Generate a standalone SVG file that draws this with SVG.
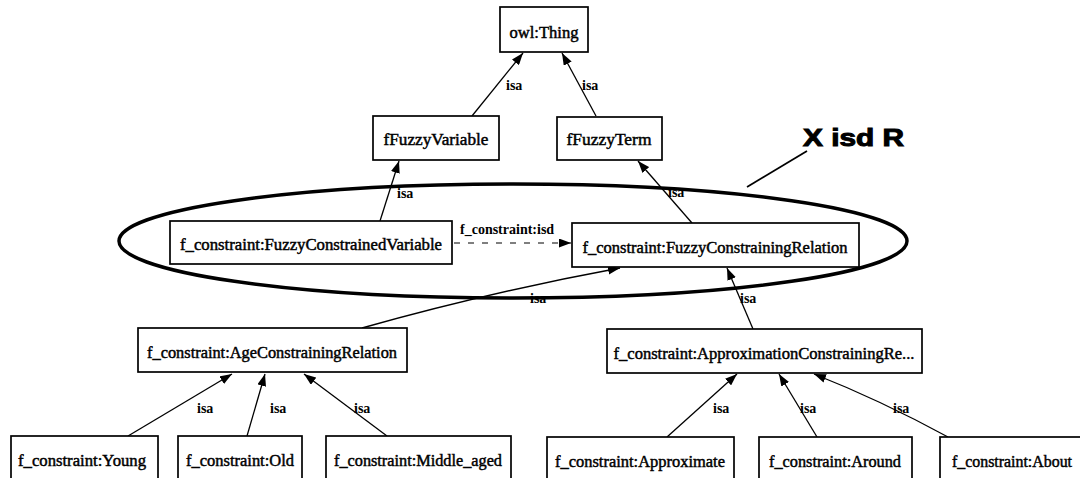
<svg xmlns="http://www.w3.org/2000/svg" width="1080" height="478" viewBox="0 0 1080 478">
  <style>
    .box { fill: #ffffff; stroke: #000000; stroke-width: 1.7; }
    .lbl { font-family: "Liberation Serif", "Times New Roman", serif; font-size: 16px; fill: #000000; stroke: #000000; stroke-width: 0.45; }
    .isa { font-family: "Liberation Serif", "Times New Roman", serif; font-size: 14px; font-weight: bold; fill: #000000; }
    .edge { fill: none; stroke: #000000; stroke-width: 1.3; marker-end: url(#arrow); }
    .dash { fill: none; stroke: #555555; stroke-width: 1.3; stroke-dasharray: 6 8; marker-end: url(#arrow); }
    .ring { fill: none; stroke: #000000; stroke-width: 3.5; }
    .note { font-family: "Liberation Sans", Arial, sans-serif; font-size: 24px; font-weight: bold; fill: #000000; stroke: #000000; stroke-width: 1; }
  </style>
  <defs>
    <marker id="arrow" viewBox="0 0 12 9" refX="12" refY="4.5" markerWidth="12" markerHeight="9" markerUnits="userSpaceOnUse" orient="auto">
      <path d="M0,0 L12,4.5 L0,9 z" fill="#000000"/>
    </marker>
  </defs>
  <rect width="1080" height="478" fill="#ffffff"/>

  <!-- highlight ring around the X isd R pair -->
  <g id="highlight">
    <ellipse class="ring" cx="513" cy="241" rx="394" ry="57"/>
    <line x1="807" y1="151" x2="747" y2="187" stroke="#000000" stroke-width="1.8"/>
    <text class="note" x="803" y="146" textLength="101" lengthAdjust="spacingAndGlyphs">X isd R</text>
  </g>

  <!-- connectors -->
  <g id="connectors">
    <line class="edge" x1="472" y1="116" x2="523" y2="53"/>
    <text class="isa" x="506" y="90">isa</text>
    <line class="edge" x1="596" y1="116" x2="562" y2="53"/>
    <text class="isa" x="582" y="90">isa</text>

    <line class="edge" x1="380" y1="221" x2="399" y2="161"/>
    <text class="isa" x="397" y="198">isa</text>
    <line class="edge" x1="692" y1="223" x2="638" y2="161"/>
    <text class="isa" x="668" y="197">isa</text>

    <line class="dash" x1="454" y1="243" x2="571" y2="243"/>
    <text class="isa" x="460" y="234">f_constraint:isd</text>

    <path class="edge" d="M362,328 Q490,292 620,268"/>
    <text class="isa" x="530" y="303">isa</text>
    <line class="edge" x1="753" y1="329" x2="727" y2="268"/>
    <text class="isa" x="740" y="303">isa</text>

    <line class="edge" x1="128" y1="436" x2="232" y2="374"/>
    <text class="isa" x="197" y="413">isa</text>
    <line class="edge" x1="247" y1="436" x2="265" y2="374"/>
    <text class="isa" x="270" y="413">isa</text>
    <line class="edge" x1="387" y1="436" x2="304" y2="374"/>
    <text class="isa" x="354" y="413">isa</text>

    <line class="edge" x1="667" y1="437" x2="737" y2="374"/>
    <text class="isa" x="713" y="413">isa</text>
    <line class="edge" x1="817" y1="437" x2="779" y2="374"/>
    <text class="isa" x="800" y="413">isa</text>
    <path class="edge" d="M948,437 Q880,400 814,374"/>
    <text class="isa" x="893" y="413">isa</text>
  </g>

  <!-- nodes -->
  <g id="owl-thing">
    <rect class="box" x="500" y="7" width="88" height="45"/>
    <text class="lbl" x="544" y="38" text-anchor="middle" textLength="69" lengthAdjust="spacingAndGlyphs">owl:Thing</text>
  </g>
  <g id="fuzzy-variable">
    <rect class="box" x="373" y="116" width="126" height="44"/>
    <text class="lbl" x="436" y="145" text-anchor="middle" textLength="105" lengthAdjust="spacingAndGlyphs">fFuzzyVariable</text>
  </g>
  <g id="fuzzy-term">
    <rect class="box" x="557" y="117" width="105" height="43"/>
    <text class="lbl" x="609" y="145" text-anchor="middle" textLength="85" lengthAdjust="spacingAndGlyphs">fFuzzyTerm</text>
  </g>
  <g id="constrained-variable">
    <rect class="box" x="170" y="221" width="282" height="43"/>
    <text class="lbl" x="311" y="250" text-anchor="middle" textLength="262" lengthAdjust="spacingAndGlyphs">f_constraint:FuzzyConstrainedVariable</text>
  </g>
  <g id="constraining-relation">
    <rect class="box" x="572" y="223" width="287" height="44"/>
    <text class="lbl" x="715" y="253" text-anchor="middle" textLength="265" lengthAdjust="spacingAndGlyphs">f_constraint:FuzzyConstrainingRelation</text>
  </g>
  <g id="age-relation">
    <rect class="box" x="138" y="328" width="269" height="44"/>
    <text class="lbl" x="272" y="358" text-anchor="middle" textLength="250" lengthAdjust="spacingAndGlyphs">f_constraint:AgeConstrainingRelation</text>
  </g>
  <g id="approximation-relation">
    <rect class="box" x="607" y="329" width="315" height="44"/>
    <text class="lbl" x="764" y="359" text-anchor="middle" textLength="301" lengthAdjust="spacingAndGlyphs">f_constraint:ApproximationConstrainingRe...</text>
  </g>
  <g id="young">
    <rect class="box" x="11" y="436" width="147" height="50"/>
    <text class="lbl" x="82" y="466" text-anchor="middle" textLength="128" lengthAdjust="spacingAndGlyphs">f_constraint:Young</text>
  </g>
  <g id="old">
    <rect class="box" x="178" y="436" width="124" height="50"/>
    <text class="lbl" x="240" y="466" text-anchor="middle" textLength="108" lengthAdjust="spacingAndGlyphs">f_constraint:Old</text>
  </g>
  <g id="middle-aged">
    <rect class="box" x="326" y="436" width="185" height="50"/>
    <text class="lbl" x="418" y="466" text-anchor="middle" textLength="168" lengthAdjust="spacingAndGlyphs">f_constraint:Middle_aged</text>
  </g>
  <g id="approximate">
    <rect class="box" x="547" y="437" width="187" height="50"/>
    <text class="lbl" x="640" y="467" text-anchor="middle" textLength="170" lengthAdjust="spacingAndGlyphs">f_constraint:Approximate</text>
  </g>
  <g id="around">
    <rect class="box" x="759" y="437" width="153" height="50"/>
    <text class="lbl" x="835" y="467" text-anchor="middle" textLength="132" lengthAdjust="spacingAndGlyphs">f_constraint:Around</text>
  </g>
  <g id="about">
    <rect class="box" x="940" y="437" width="150" height="50"/>
    <text class="lbl" x="1012" y="467" text-anchor="middle" textLength="120" lengthAdjust="spacingAndGlyphs">f_constraint:About</text>
  </g>
</svg>
